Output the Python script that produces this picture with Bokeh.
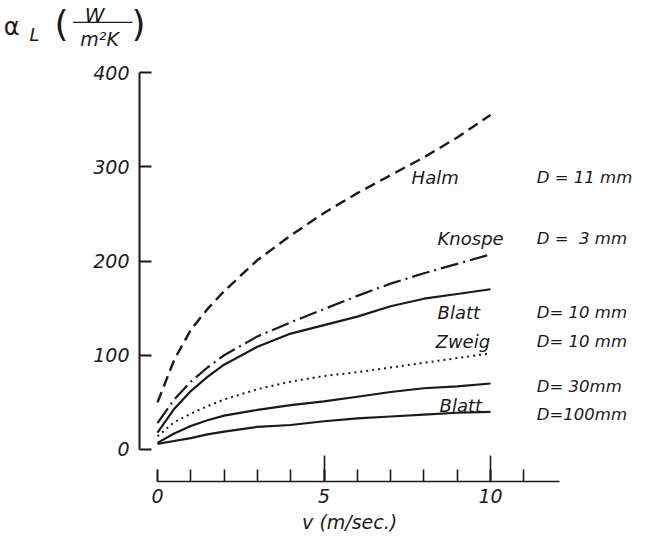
from bokeh.plotting import figure
from bokeh.models import Label, FixedTicker, Range1d, LinearAxis
from bokeh.embed import file_html
from bokeh.resources import INLINE

# ---- data ----
v = [0, 0.5, 1, 1.5, 2, 3, 4, 5, 6, 7, 8, 9, 10]
halm_11 = [50, 95, 127, 149, 168, 201, 227, 251, 272, 291, 310, 331, 355]
knospe_3 = [28, 53, 72, 87, 100, 120, 135, 149, 163, 176, 187, 197, 207]
blatt_10 = [18, 43, 62, 77, 90, 109, 123, 132, 141, 152, 160, 165, 170]
zweig_10 = [14, 29, 38, 46, 53, 64, 72, 78, 82, 87, 92, 97, 102]
d_30 = [7, 17, 25, 31, 36, 42, 47, 51, 56, 61, 65, 67, 70]
blatt_100 = [6, 9, 12, 16, 19, 24, 26, 30, 33, 35, 37, 39, 40]

x_ticks = [0, 5, 10]
x_long_ticks = [5, 10]
x_minor = [0, 1, 2, 3, 4, 5, 6, 7, 8, 9, 10, 11]
y_ticks = [0, 100, 200, 300, 400]

INK = "#1a1a1a"
FONT = "DejaVu Sans"

p = figure(width=635, height=534, output_backend="svg", toolbar_location=None,
           x_range=Range1d(-4.715, 14.354), y_range=Range1d(-90.19, 476.4),
           min_border_left=0, min_border_right=0, min_border_top=0,
           min_border_bottom=0)
p.title.visible = False
p.grid.visible = False
p.outline_line_color = None
p.background_fill_color = "white"
p.border_fill_color = "white"

X_AXIS_AT = -33.95   # y value where the detached v-axis sits
Y_AXIS_AT = -0.54    # v value where the alpha-axis sits

# x axis (labels + short ticks)
xa = p.xaxis[0]
xa.fixed_location = X_AXIS_AT
xa.ticker = FixedTicker(ticks=x_ticks, minor_ticks=x_minor)
xa.bounds = (0, 12.07)
xa.axis_line_color = INK
xa.axis_line_width = 1.6
xa.major_tick_line_color = INK
xa.major_tick_line_width = 1.6
xa.minor_tick_line_color = INK
xa.minor_tick_line_width = 1.6
xa.major_tick_in = 12
xa.major_tick_out = 0
xa.minor_tick_in = 12
xa.minor_tick_out = 0
xa.major_label_standoff = 8
xa.major_label_text_font = FONT
xa.major_label_text_font_style = "italic"
xa.major_label_text_font_size = "19px"
xa.major_label_text_color = INK

# second x axis: only the long ticks at 5 and 10
xb = LinearAxis(fixed_location=X_AXIS_AT,
                ticker=FixedTicker(ticks=x_long_ticks, minor_ticks=[]),
                axis_line_color=None, major_tick_line_color=INK,
                major_tick_line_width=1.6, major_tick_in=26, major_tick_out=0,
                minor_tick_line_color=None, major_label_text_font_size="0px",
                major_label_text_alpha=0)
p.add_layout(xb, "below")

# y axis
ya = p.yaxis[0]
ya.fixed_location = Y_AXIS_AT
ya.ticker = FixedTicker(ticks=y_ticks, minor_ticks=[])
ya.bounds = (0, 400)
ya.axis_line_color = INK
ya.axis_line_width = 2
ya.major_tick_line_color = INK
ya.major_tick_line_width = 2
ya.major_tick_in = 12
ya.major_tick_out = 0
ya.minor_tick_line_color = None
ya.major_label_standoff = 10
ya.major_label_text_font = FONT
ya.major_label_text_font_style = "italic"
ya.major_label_text_font_size = "19px"
ya.major_label_text_color = INK

# curves
p.line(v, halm_11, line_color=INK, line_width=2.4, line_dash="11 6")
p.line(v, knospe_3, line_color=INK, line_width=2.2, line_dash="18 5 2 5")
p.line(v, blatt_10, line_color=INK, line_width=2.2)
p.line(v, zweig_10, line_color=INK, line_width=2.0, line_dash="2 4")
p.line(v, d_30, line_color=INK, line_width=2.2)
p.line(v, blatt_100, line_color=INK, line_width=2.2)


def lab(text, x, y, size="18px", align="left", font=FONT, style="italic"):
    p.add_layout(Label(x=x, y=y, text=text, text_font=font,
                       text_font_style=style, text_font_size=size,
                       text_color=INK, text_align=align,
                       text_baseline="middle"))


# curve labels
lab("Halm", 7.63, 288.6)
lab("Knospe", 8.41, 223.9)
lab("Blatt", 8.41, 145.4)
lab("Zweig", 8.35, 114.6)
lab("Blatt", 8.47, 46.7)

RX = 11.39
lab("D = 11 mm", RX, 288.6, size="16.5px")
lab("D =\u00a0 3 mm", RX, 223.9, size="16.5px")
lab("D= 10 mm", RX, 145.4, size="16.5px")
lab("D= 10 mm", RX, 114.6, size="16.5px")
lab("D= 30mm", RX, 66.8, size="16.5px")
lab("D=100mm", RX, 37.1, size="16.5px")

# x axis title
lab("v (m/sec.)", 5.77, -77.0, size="19px", align="center")

# y axis title  alpha_L (W / m^2 K)
lab("\u03b1", -4.38, 448.8, size="24px", align="center", style="normal")
lab("L", -3.69, 440.3, size="18px", align="center")
lab("(", -2.88, 452.0, size="36px", align="center", style="normal")
lab("W", -1.89, 461.5, size="20px", align="center")
lab("\u2500" * 7, -1.65, 453.1, size="14px", align="center",
    font="DejaVu Sans Mono", style="normal")
lab("m\u00b2K", -1.74, 436.0, size="19px", align="center")
lab(")", -0.57, 452.0, size="36px", align="center", style="normal")

open("out.html", "w").write(file_html(p, INLINE))
